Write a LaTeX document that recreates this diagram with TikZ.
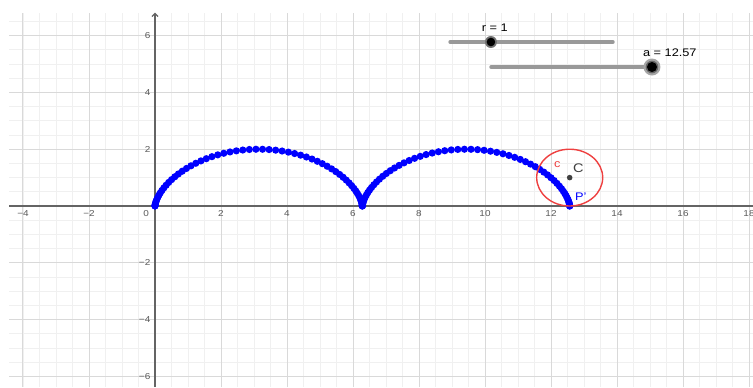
\documentclass[tikz,border=0pt]{standalone}
\usepackage{fontspec}
\setmainfont{Liberation Sans}
\usepackage{xcolor}
\usetikzlibrary{arrows.meta}
\definecolor{ggblue}{RGB}{0,0,255}
\definecolor{ggred}{RGB}{238,64,64}
\definecolor{ggaxis}{RGB}{100,100,100}
\newcommand{\wide}[1]{\scalebox{1.16}[1]{#1}}

\begin{document}
\begin{tikzpicture}[x=33pt, y=28.4pt, >={Straight Barb[length=3pt,width=6pt]},
    font=\fontsize{8.6}{9}\selectfont,
    minorline/.style={black!6, line width=0.8pt},
    majorline/.style={black!15, line width=1pt},
    ticklbl/.style={text=black!65, inner sep=0.5pt},
    sliderline/.style={black!40, line width=3.3pt, line cap=round},
    lbl/.style={inner sep=0pt, font=\fontsize{11}{11}\selectfont}]
  \useasboundingbox (-4.697,-6.373) rectangle (18.121,7.254);
  % grid
  \foreach \x in {-4,-3.5,...,18} \draw[minorline] (\x,-6.373) -- (\x,6.806);
  \foreach \y in {-6,-5.5,...,6.5} \draw[minorline] (-4.424,\y) -- (18.121,\y);
  \foreach \x in {-4,-2,...,18} \draw[majorline] (\x,-6.373) -- (\x,6.806);
  \foreach \y in {-6,-4,...,6} \draw[majorline] (-4.424,\y) -- (18.121,\y);
  % axes
  \coordinate (O) at (0,0);
  \draw[ggaxis, line width=1.2pt] (-4.424,0) -- (18.121,0);
  \draw[ggaxis, line width=1.2pt, ->] (0,-6.373) -- (0,6.806);
  \foreach \x/\t in {-4/−4,-2/−2,2/2,4/4,6/6,8/8,10/10,12/12,14/14,16/16,18/18}
    \node[ticklbl] (xl\x) at (\x,-0.26) {\wide{\t}};
  \foreach \y/\t in {-6/−6,-4/−4,-2/−2,2/2,4/4,6/6}
    \node[ticklbl, anchor=east] (yl\y) at (-0.12,\y) {\wide{\t}};
  \node[ticklbl] (zero) at (-0.27,-0.26) {\wide{0}};
  % locus of P'
  \foreach \i in {0,...,125} {
    \pgfmathsetmacro\ang{\i/10}
    \fill[ggblue] ({\ang-sin(\ang r)},{1-cos(\ang r)}) circle (3.6pt);
  }
  \coordinate (P) at (12.566,0);
  \coordinate (C) at (12.566,1);
  \fill[ggblue] (P) circle (3.6pt);
  \draw[ggred, line width=1.4pt] (C) ellipse [x radius=33pt, y radius=28.4pt];
  \fill[black!75] (C) circle (2.8pt);
  \node[lbl, text=ggred] (lblc) at (12.19,1.46) {\wide{c}};
  \node[lbl, text=black!75, font=\fontsize{12.5}{12.5}\selectfont] (lblC) at (12.83,1.33) {\wide{C}};
  \node[lbl, text=ggblue] (lblP) at (12.9,0.33) {\wide{P'}};
  % sliders
  \coordinate (r0) at (8.94,5.775);
  \coordinate (r1) at (13.88,5.775);
  \coordinate (rk) at (10.18,5.775);
  \draw[sliderline] (r0) -- (r1);
  \fill[black!55] (rk) circle (6pt);
  \fill[black] (rk) circle (4.3pt);
  \node[lbl] (rlbl) at (10.30,6.27) {\wide{r = 1}};
  \coordinate (a0) at (10.18,4.894);
  \coordinate (a1) at (15.09,4.894);
  \coordinate (ak) at (15.06,4.894);
  \draw[sliderline] (a0) -- (a1);
  \fill[black!35] (ak) circle (8.5pt);
  \fill[black!60] (ak) circle (6.3pt);
  \fill[black] (ak) circle (5pt);
  \node[lbl] (albl) at (15.6,5.39) {\wide{a = 12.57}};
\end{tikzpicture}
\end{document}
